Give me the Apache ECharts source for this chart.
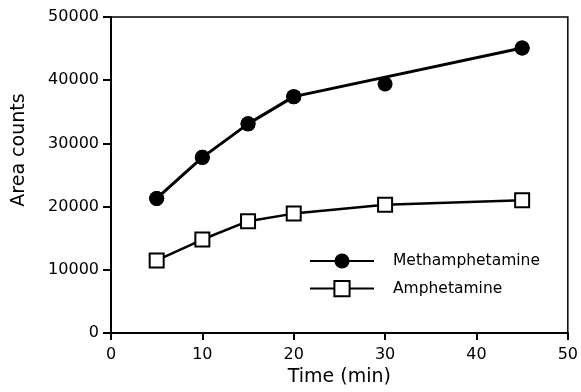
<!DOCTYPE html>
<html>
<head>
<meta charset="utf-8">
<script src="https://cdn.jsdelivr.net/npm/echarts@6/dist/echarts.min.js"></script>
<style>
  html, body { margin: 0; padding: 0; background: #fff; }
  #chart { width: 581px; height: 392px; }
</style>
</head>
<body>
<div id="chart"></div>
<script>
// measured points
const methTime = [5, 10, 15, 20, 30, 45];
const methArea = [21300, 27800, 33100, 37400, 39400, 45100];
const ampTime = [5, 10, 15, 20, 30, 45];
const ampArea = [11500, 14800, 17700, 18900, 20300, 21000];

// fitted curve drawn through methamphetamine data (passes above the 30 min point)
const methFitTime = [5, 10, 15, 20, 45];
const methFitArea = [21300, 27800, 33100, 37400, 45100];

const xTicks = [0, 10, 20, 30, 40, 50];
const yTicks = [0, 10000, 20000, 30000, 40000, 50000];

const zip = (xs, ys) => xs.map((x, i) => [x, ys[i]]);

const font = "DejaVu Sans";
const chart = echarts.init(document.getElementById("chart"));

chart.setOption({
  animation: false,
  textStyle: { fontFamily: font, color: "#000" },
  grid: {
    left: 111,
    right: 12,
    top: 17,
    bottom: 58,
    show: true,
    borderColor: "#000",
    borderWidth: 1.5,
  },
  legend: {
    orient: "vertical",
    left: 304,
    top: 248,
    itemWidth: 64,
    itemHeight: 19,
    itemGap: 11,
    data: ["Methamphetamine", "Amphetamine"],
    lineStyle: { width: 2 },
    textStyle: { fontFamily: font, fontSize: 15.5, color: "#000", padding: [0, 0, 0, 14] },
  },
  xAxis: {
    type: "value",
    min: xTicks[0],
    max: xTicks[xTicks.length - 1],
    interval: 10,
    name: "Time (min)",
    nameLocation: "middle",
    nameGap: 31,
    nameTextStyle: { fontSize: 19, color: "#000", fontFamily: font },
    axisLine: { lineStyle: { color: "#000", width: 2 } },
    axisTick: { show: true, length: 7, lineStyle: { color: "#000", width: 2 } },
    axisLabel: { fontSize: 16, color: "#000", margin: 14, fontFamily: font, formatter: (v) => String(v) },
    splitLine: { show: false },
  },
  yAxis: {
    type: "value",
    min: yTicks[0],
    max: yTicks[yTicks.length - 1],
    interval: 10000,
    name: "Area counts",
    nameLocation: "middle",
    nameGap: 82,
    nameTextStyle: { fontSize: 19, color: "#000", fontFamily: font, padding: [0, 0, 0, 50] },
    axisLine: { show: true, lineStyle: { color: "#000", width: 2 } },
    axisTick: { show: true, length: 8, lineStyle: { color: "#000", width: 2 } },
    axisLabel: { fontSize: 16, color: "#000", margin: 12, fontFamily: font, formatter: (v) => String(v) },
    splitLine: { show: false },
  },
  series: [
    {
      name: "Methamphetamine",
      type: "line",
      data: zip(methFitTime, methFitArea),
      symbol: "circle",
      symbolSize: 15,
      itemStyle: { color: "#000" },
      lineStyle: { color: "#000", width: 3 },
      z: 3,
    },
    {
      name: "Methamphetamine",
      type: "scatter",
      data: zip(methTime, methArea),
      symbol: "circle",
      symbolSize: 15,
      itemStyle: { color: "#000", opacity: 1 },
      z: 4,
    },
    {
      name: "Amphetamine",
      type: "line",
      data: zip(ampTime, ampArea),
      symbol: "rect",
      symbolSize: 14,
      itemStyle: { color: "#fff", borderColor: "#000", borderWidth: 2 },
      lineStyle: { color: "#000", width: 2.5 },
      z: 3,
    },
  ],
});
</script>
</body>
</html>
